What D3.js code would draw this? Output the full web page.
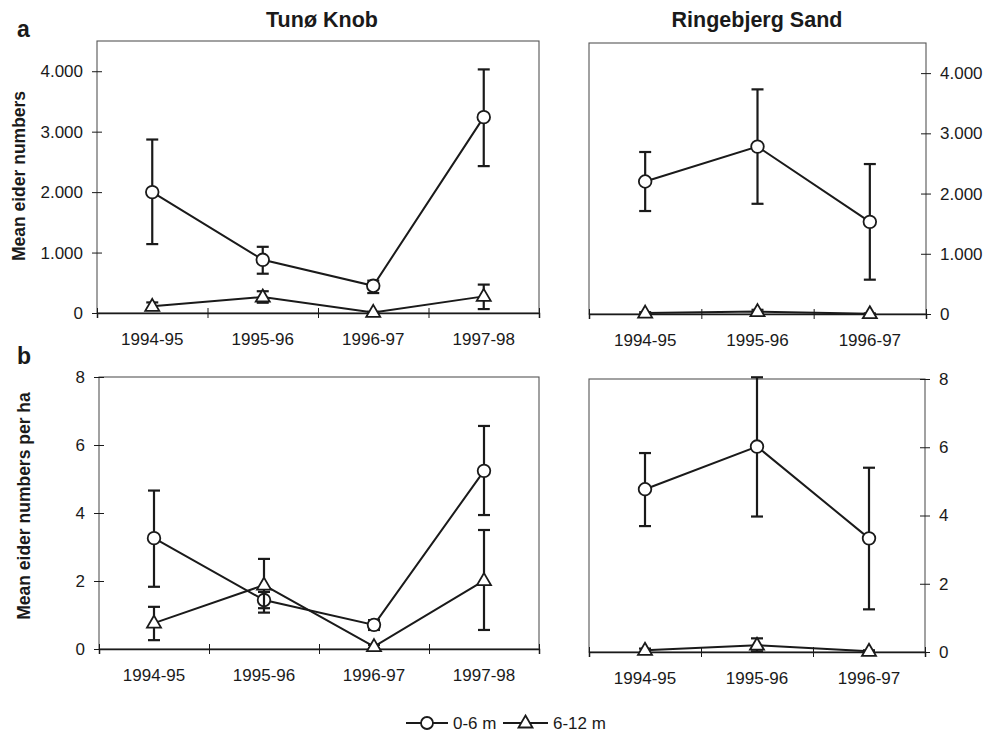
<!DOCTYPE html>
<html>
<head>
<meta charset="utf-8">
<script src="https://cdn.jsdelivr.net/npm/d3@7"></script>
<style>
  body { margin: 0; background: #fff; }
  svg { display: block; }
</style>
</head>
<body>
<div class="chart"></div>
<script>
// ---- data ----
const seasons = ["1994-95", "1995-96", "1996-97", "1997-98"];
const ringSeasons = ["1994-95", "1995-96", "1996-97"];

const numTicks = [0, 1000, 2000, 3000, 4000];
const haTicks = [0, 2, 4, 6, 8];

// a: mean eider numbers
const tunoNum06 = [2000, 880, 450, 3240];
const tunoNum06Lo = [1140, 650, 330, 2430];
const tunoNum06Hi = [2870, 1095, 535, 4030];
const tunoNum612 = [110, 265, 10, 275];
const tunoNum612Lo = [50, 170, 0, 65];
const tunoNum612Hi = [175, 360, 20, 470];

const ringNum06 = [2200, 2780, 1530];
const ringNum06Lo = [1710, 1830, 570];
const ringNum06Hi = [2690, 3730, 2490];
const ringNum612 = [15, 40, 5];
const ringNum612Lo = [0, 10, 0];
const ringNum612Hi = [30, 70, 10];

// b: mean eider numbers per ha
const tunoHa06 = [3.26, 1.44, 0.71, 5.24];
const tunoHa06Lo = [1.83, 1.2, 0.56, 3.94];
const tunoHa06Hi = [4.66, 1.68, 0.85, 6.56];
const tunoHa612 = [0.76, 1.88, 0.07, 2.01];
const tunoHa612Lo = [0.26, 1.07, 0.02, 0.56];
const tunoHa612Hi = [1.24, 2.65, 0.12, 3.5];

const ringHa06 = [4.77, 6.02, 3.33];
const ringHa06Lo = [3.69, 3.97, 1.25];
const ringHa06Hi = [5.83, 8.05, 5.4];
const ringHa612 = [0.05, 0.2, 0.02];
const ringHa612Lo = [0, 0.02, 0];
const ringHa612Hi = [0.1, 0.4, 0.05];

// ---- drawing ----
const FONT = '"Liberation Sans", Arial, Helvetica, sans-serif';
const INK = "#1a1a1a";
const TICK_SIZE = 17;
const fmt = d3.formatLocale({decimal: ",", thousands: ".", grouping: [3], currency: ["", ""]}).format(",");

const svg = d3.select(".chart")
  .append("svg")
    .attr("width", 986)
    .attr("height", 736)
    .style("font-family", FONT);

const zip = (cats, v, lo, hi) => cats.map((c, i) => ({c: c, v: v[i], lo: lo[i], hi: hi[i]}));
const triangle = "M0,-7.5L7,4.5L-7,4.5Z";

function panel(p) {
  const g = svg.append("g");
  const x = d3.scaleBand().domain(p.cats).range([p.x0, p.x1]);
  const xb = d3.scaleLinear().domain([0, p.cats.length]).range([p.x0, p.x1]);
  const y = d3.scaleLinear().domain([0, p.ymax]).range([p.y1, p.y0]);
  const cx = d => x(d.c) + x.bandwidth() / 2;

  // frame
  g.append("rect")
    .attr("x", p.x0).attr("y", p.y0)
    .attr("width", p.x1 - p.x0).attr("height", p.y1 - p.y0)
    .attr("fill", "none").attr("stroke", "#555").attr("stroke-width", 1.1);

  // x ticks at band edges
  g.append("g")
    .attr("transform", "translate(0," + p.y1 + ")")
    .call(d3.axisBottom(xb).tickValues(d3.range(p.cats.length + 1)).tickSize(5).tickFormat(""))
    .call(a => {
      a.select(".domain").attr("stroke", INK).attr("stroke-width", 1.5);
      a.selectAll(".tick line").attr("y1", -5).attr("stroke", INK);
    });

  // category labels
  g.append("g")
    .attr("transform", "translate(0," + p.y1 + ")")
    .call(d3.axisBottom(x).tickSize(0).tickPadding(20))
    .call(a => {
      a.select(".domain").remove();
      a.attr("font-family", FONT).attr("font-size", TICK_SIZE);
      a.selectAll("text").attr("fill", INK);
    });

  // value axis
  const right = p.side === "right";
  const axis = (right ? d3.axisRight(y) : d3.axisLeft(y))
    .tickValues(p.ticks).tickSize(5).tickPadding(9).tickFormat(fmt);
  g.append("g")
    .attr("transform", "translate(" + (right ? p.x1 : p.x0) + ",0)")
    .call(axis)
    .call(a => {
      a.select(".domain").remove();
      a.attr("font-family", FONT).attr("font-size", TICK_SIZE);
      a.selectAll(".tick line").attr("x1", right ? -5 : 5).attr("stroke", INK);
      a.selectAll("text").attr("fill", INK);
    });

  const line = d3.line().x(cx).y(d => y(d.v));

  p.series.forEach(s => {
    g.append("path")
      .datum(s.data)
      .attr("d", line)
      .attr("fill", "none").attr("stroke", INK).attr("stroke-width", 2);

    const eb = g.append("g").selectAll("g").data(s.data).enter().append("g")
      .attr("stroke", INK).attr("stroke-width", 2.2);
    eb.append("line")
      .attr("x1", cx).attr("x2", cx)
      .attr("y1", d => y(d.lo)).attr("y2", d => y(d.hi));
    eb.append("line")
      .attr("x1", d => cx(d) - 6).attr("x2", d => cx(d) + 6)
      .attr("y1", d => y(d.lo)).attr("y2", d => y(d.lo));
    eb.append("line")
      .attr("x1", d => cx(d) - 6).attr("x2", d => cx(d) + 6)
      .attr("y1", d => y(d.hi)).attr("y2", d => y(d.hi));

    const m = g.append("g").selectAll("path").data(s.data).enter();
    if (s.shape === "circle") {
      m.append("circle")
        .attr("cx", cx).attr("cy", d => y(d.v)).attr("r", 6.3)
        .attr("fill", "#fff").attr("stroke", INK).attr("stroke-width", 1.8);
    } else {
      m.append("path")
        .attr("d", triangle)
        .attr("transform", d => "translate(" + cx(d) + "," + y(d.v) + ")")
        .attr("fill", "#fff").attr("stroke", INK).attr("stroke-width", 1.8);
    }
  });
}

panel({x0: 97, x1: 539, y0: 41, y1: 313, ymax: 4500, ticks: numTicks, side: "left", cats: seasons,
  series: [
    {shape: "circle", data: zip(seasons, tunoNum06, tunoNum06Lo, tunoNum06Hi)},
    {shape: "triangle", data: zip(seasons, tunoNum612, tunoNum612Lo, tunoNum612Hi)}
  ]});
panel({x0: 589, x1: 926, y0: 43, y1: 314, ymax: 4500, ticks: numTicks, side: "right", cats: ringSeasons,
  series: [
    {shape: "circle", data: zip(ringSeasons, ringNum06, ringNum06Lo, ringNum06Hi)},
    {shape: "triangle", data: zip(ringSeasons, ringNum612, ringNum612Lo, ringNum612Hi)}
  ]});
panel({x0: 99, x1: 539, y0: 377, y1: 649, ymax: 8, ticks: haTicks, side: "left", cats: seasons,
  series: [
    {shape: "circle", data: zip(seasons, tunoHa06, tunoHa06Lo, tunoHa06Hi)},
    {shape: "triangle", data: zip(seasons, tunoHa612, tunoHa612Lo, tunoHa612Hi)}
  ]});
panel({x0: 589, x1: 925, y0: 379, y1: 652, ymax: 8, ticks: haTicks, side: "right", cats: ringSeasons,
  series: [
    {shape: "circle", data: zip(ringSeasons, ringHa06, ringHa06Lo, ringHa06Hi)},
    {shape: "triangle", data: zip(ringSeasons, ringHa612, ringHa612Lo, ringHa612Hi)}
  ]});

// titles and labels
const bold = (t, x, y, size, anchor) => svg.append("text")
  .attr("x", x).attr("y", y)
  .attr("font-size", size).attr("font-weight", "bold")
  .attr("text-anchor", anchor || "middle").attr("fill", INK)
  .text(t);

bold("Tunø Knob", 322, 27, 21.5);
bold("Ringebjerg Sand", 757, 27, 21.5);
bold("a", 17, 37, 23, "start");
bold("b", 17, 364, 23, "start");

bold("Mean eider numbers", 0, 0, 17.5).attr("transform", "translate(25,176) rotate(-90)");
bold("Mean eider numbers per ha", 0, 0, 17.5).attr("transform", "translate(30,506) rotate(-90)");

// legend
const legend = svg.append("g").attr("transform", "translate(0,723)");
const legendItems = [
  {label: "0-6 m", shape: "circle", x1: 406, x2: 448},
  {label: "6-12 m", shape: "triangle", x1: 503, x2: 548}
];
legendItems.forEach(it => {
  legend.append("line")
    .attr("x1", it.x1).attr("x2", it.x2)
    .attr("stroke", INK).attr("stroke-width", 2);
  const mx = (it.x1 + it.x2) / 2;
  if (it.shape === "circle") {
    legend.append("circle").attr("cx", mx).attr("r", 6)
      .attr("fill", "#fff").attr("stroke", INK).attr("stroke-width", 1.8);
  } else {
    legend.append("path").attr("d", triangle)
      .attr("transform", "translate(" + mx + ",0)")
      .attr("fill", "#fff").attr("stroke", INK).attr("stroke-width", 1.8);
  }
  legend.append("text")
    .attr("x", it.x2 + 5).attr("y", 6)
    .attr("font-size", TICK_SIZE).attr("fill", INK)
    .text(it.label);
});
</script>
</body>
</html>
